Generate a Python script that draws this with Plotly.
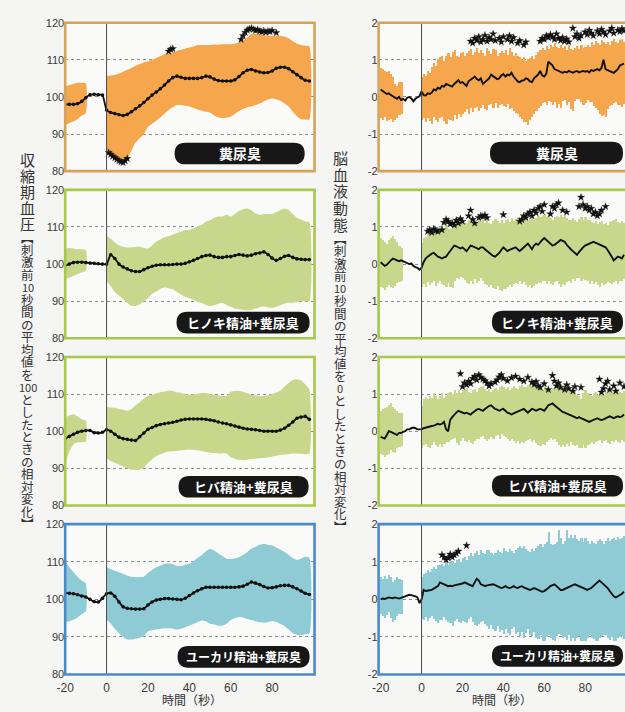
import plotly.graph_objects as go

W, H = 625, 712

# ---------------- time grids ----------------
T_L = list(range(-20, 100, 2))        # left line (-20..98)
T_L_PRE = list(range(-20, -9, 2))     # left band before stimulus
T_L_POST = list(range(0, 100, 2))     # left band after stimulus
T_R = list(range(-20, 100))           # right line
T_R_PRE = list(range(-20, -9))
T_R_POST = list(range(0, 100))

PANEL_LABELS = ["糞尿臭", "ヒノキ精油+糞尿臭", "ヒバ精油+糞尿臭", "ユーカリ精油+糞尿臭"]
LEFT_TICKS = [80, 90, 100, 110, 120]
RIGHT_TICKS = [-2, -1, 0, 1, 2]
RIGHT_TICKTEXT = ["-2", "-1", "0", "1", "2"]
X_TICKS = [-20, 0, 20, 40, 60, 80]
X_TICKTEXT = ["-20", "0", "20", "40", "60", "80"]

# ---------------- left column: systolic blood pressure ----------------
SBP_MEAN_1 = [98.0, 98.0, 98.0, 98.2, 98.8, 99.8, 100.6, 100.7, 100.6, 100.5,
              96.5, 95.8, 95.5, 95.2, 95.0, 95.3, 96.0, 96.8, 97.6, 98.5,
              99.5, 100.5, 101.3, 102.2, 103.2, 104.3, 105.2, 105.6, 105.3, 105.0,
              105.0, 105.0, 105.0, 105.2, 105.6, 105.4, 104.8, 104.4, 104.3, 104.3,
              104.3, 104.6, 105.5, 106.5, 107.2, 107.4, 107.0, 106.7, 106.5, 106.6,
              107.0, 107.7, 108.0, 108.0, 107.6, 106.8, 106.0, 105.2, 104.5, 104.3]
SBP_HI_PRE_1 = [102.8, 103.2, 103.5, 103.8, 103.8, 103.6]
SBP_LO_PRE_1 = [92.5, 93.0, 93.4, 94.0, 95.0, 95.6]
SBP_HI_POST_1 = [105.7, 105.8, 105.9, 106.3, 106.8, 107.3, 107.8, 108.4, 108.9, 109.3,
                 109.6, 110.0, 110.5, 111.0, 111.6, 111.8, 112.0, 112.4, 112.7, 113.0,
                 113.3, 113.6, 114.0, 114.0, 114.0, 114.0, 114.1, 114.1, 114.2, 114.2,
                 114.2, 114.4, 114.7, 115.2, 116.0, 117.0, 117.0, 116.8, 116.6, 116.5,
                 116.5, 116.5, 116.5, 116.2, 115.8, 115.0, 114.3, 114.0, 113.8, 113.6]
SBP_LO_POST_1 = [85.0, 84.0, 83.3, 82.8, 82.5, 83.3, 85.5, 87.7, 88.8, 90.0,
                 92.0, 92.8, 93.6, 94.5, 95.5, 96.5, 97.2, 97.8, 97.8, 97.6,
                 97.4, 97.0, 96.6, 96.3, 96.0, 95.8, 95.0, 94.5, 94.3, 94.4,
                 94.7, 95.4, 96.2, 96.8, 97.2, 97.4, 97.8, 98.2, 98.8, 99.3,
                 99.6, 99.4, 99.0, 98.2, 97.4, 96.0, 94.8, 94.0, 93.9, 93.9]
SBP_STAR_T_1 = [1, 2, 3, 4, 5, 6, 7, 8, 9, 10, 30, 31, 32,
                65, 66, 67, 68, 69, 70, 71, 72, 73, 74, 75, 76, 77, 78, 79, 80, 82]
SBP_STAR_V_1 = [85.0, 84.5, 84.0, 83.6, 83.2, 82.8, 82.5, 82.3, 82.8, 83.4, 112.3, 112.8, 113.0,
                115.5, 116.5, 117.4, 118.0, 118.3, 118.5, 118.2, 117.9, 118.1, 117.7, 117.5,
                117.8, 117.4, 117.7, 117.6, 117.9, 117.3]

SBP_MEAN_2 = [99.6, 100.0, 100.4, 100.5, 100.5, 100.4, 100.3, 100.2, 100.1, 100.0,
              100.0, 102.5, 101.5, 100.0, 99.2, 98.7, 98.2, 98.0, 98.0, 98.5,
              99.0, 99.4, 99.7, 99.8, 99.8, 99.8, 99.9, 100.0, 100.0, 100.2,
              100.6, 101.0, 101.5, 102.0, 102.3, 102.4, 102.0, 101.8, 101.8, 102.0,
              102.0, 102.3, 102.6, 102.4, 102.2, 102.4, 102.8, 103.0, 103.3, 102.6,
              101.6, 101.0, 101.5, 102.1, 102.3, 101.8, 101.4, 101.3, 101.2, 101.2]
SBP_HI_PRE_2 = [104.2, 104.3, 104.2, 104.0, 104.0, 103.8]
SBP_LO_PRE_2 = [96.0, 96.3, 96.8, 97.3, 97.7, 98.2]
SBP_HI_POST_2 = [107.6, 106.8, 105.8, 105.0, 104.7, 104.5, 104.5, 104.6, 104.7, 104.4,
                 104.2, 105.0, 106.0, 106.6, 107.2, 107.5, 108.0, 108.4, 108.8, 109.2,
                 109.2, 109.6, 110.2, 110.6, 111.4, 111.8, 112.5, 112.8, 112.8, 113.3,
                 112.8, 113.5, 114.3, 114.8, 115.0, 114.5, 113.6, 113.3, 113.5, 113.5,
                 113.5, 114.0, 114.6, 115.0, 114.6, 113.5, 112.5, 112.0, 111.5, 111.2]
SBP_LO_POST_2 = [95.5, 94.0, 92.5, 91.5, 90.5, 89.5, 88.8, 88.7, 89.2, 90.0,
                 90.8, 92.0, 92.6, 93.3, 93.7, 93.5, 93.2, 92.5, 91.8, 91.2,
                 90.8, 90.4, 89.8, 89.5, 89.0, 88.7, 88.9, 89.3, 89.5, 89.0,
                 88.5, 88.0, 87.8, 87.6, 87.5, 87.6, 88.0, 88.4, 88.6, 88.4,
                 88.2, 88.5, 89.0, 89.4, 89.6, 89.6, 89.8, 90.0, 90.0, 90.0]

SBP_MEAN_3 = [98.0, 98.6, 99.2, 99.7, 100.0, 100.2, 100.2, 99.6, 99.5, 99.7,
              100.4, 100.0, 99.2, 98.4, 98.0, 97.8, 97.6, 97.5, 98.5, 99.5,
              100.5, 101.0, 101.5, 101.8, 102.0, 102.2, 102.4, 102.7, 103.0, 103.2,
              103.3, 103.3, 103.3, 103.3, 103.2, 103.0, 102.8, 102.5, 102.2, 102.0,
              101.7, 101.4, 101.1, 100.8, 100.6, 100.5, 100.4, 100.2, 100.0, 100.0,
              100.0, 100.0, 100.3, 100.8, 101.6, 102.5, 103.5, 103.8, 104.0, 103.2]
SBP_HI_PRE_3 = [103.7, 104.3, 104.6, 104.0, 103.2, 102.8]
SBP_LO_PRE_3 = [91.0, 94.5, 96.5, 97.0, 97.0, 97.2]
SBP_HI_POST_3 = [106.5, 106.4, 106.3, 106.0, 105.8, 105.5, 106.0, 107.0, 107.8, 108.8,
                 109.5, 109.8, 110.2, 110.5, 110.7, 111.0, 110.8, 110.5, 110.3, 110.0,
                 109.8, 109.9, 110.1, 110.3, 110.3, 110.0, 109.8, 109.6, 109.5, 109.5,
                 110.6, 110.8, 110.8, 110.6, 110.2, 109.8, 109.6, 109.5, 109.5, 109.7,
                 110.0, 110.4, 111.0, 112.0, 113.0, 113.8, 114.0, 113.7, 112.6, 111.2]
SBP_LO_POST_3 = [92.7, 92.0, 91.5, 91.0, 90.5, 90.0, 89.6, 89.5, 89.6, 90.2,
                 91.5, 92.4, 93.3, 93.8, 94.2, 94.5, 94.6, 94.7, 94.8, 95.0,
                 95.1, 95.0, 94.8, 94.6, 94.4, 94.2, 94.1, 94.0, 94.0, 94.0,
                 93.0, 92.6, 92.3, 92.2, 92.3, 92.5, 92.6, 92.7, 92.8, 93.0,
                 93.2, 93.4, 93.6, 93.7, 93.8, 94.0, 94.0, 93.9, 93.8, 94.0]

SBP_MEAN_4 = [101.7, 101.6, 101.5, 101.2, 100.9, 100.6, 100.0, 99.4, 99.3, 100.3,
              101.5, 101.7, 100.8, 99.3, 98.0, 97.6, 97.5, 97.4, 97.4, 97.5,
              98.5, 99.3, 99.8, 100.0, 100.2, 100.2, 100.1, 100.0, 99.9, 100.3,
              101.0, 101.7, 102.3, 102.8, 103.2, 103.2, 103.2, 103.2, 103.2, 103.2,
              103.2, 103.2, 103.3, 103.5, 104.0, 104.6, 104.3, 103.9, 103.4, 103.0,
              103.1, 103.3, 103.6, 103.7, 103.7, 103.3, 102.8, 102.2, 101.6, 101.3]
SBP_HI_PRE_4 = [110.3, 108.5, 107.2, 106.0, 105.0, 104.2]
SBP_LO_PRE_4 = [94.0, 94.2, 94.6, 95.2, 96.0, 96.8]
SBP_HI_POST_4 = [108.5, 108.0, 107.6, 107.2, 106.8, 106.3, 106.0, 105.9, 105.9, 106.0,
                 107.0, 107.8, 108.5, 109.0, 109.4, 109.5, 109.3, 108.9, 108.8, 109.2,
                 109.5, 110.2, 111.0, 111.8, 112.8, 113.4, 113.0, 112.2, 111.5, 110.8,
                 110.7, 110.9, 111.2, 111.8, 112.6, 113.5, 114.0, 114.5, 114.7, 114.5,
                 114.3, 113.8, 113.2, 112.6, 111.8, 111.0, 110.5, 110.8, 111.3, 111.0]
SBP_LO_POST_4 = [94.6, 93.6, 92.2, 91.0, 90.0, 89.3, 89.3, 89.5, 89.8, 90.2,
                 91.5, 91.8, 92.0, 92.2, 92.3, 92.3, 92.2, 92.0, 92.2, 92.6,
                 93.0, 93.5, 94.0, 94.4, 94.2, 93.5, 93.3, 93.0, 93.0, 93.5,
                 94.5, 95.0, 95.3, 95.2, 94.8, 94.5, 94.2, 93.9, 93.8, 94.0,
                 94.2, 94.0, 93.5, 92.9, 92.0, 91.0, 90.6, 90.5, 90.7, 90.9]

# ---------------- right column: cerebral hemodynamics ----------------
CBF_MEAN_1 = [0.20, 0.15, 0.12, 0.08, 0.10, 0.05, 0.02, -0.03, -0.05, 0.00,
              -0.08, -0.05, -0.10, -0.02, 0.00, -0.04, -0.12, -0.05, -0.02, 0.02,
              0.15, 0.05, 0.04, 0.10, 0.08, 0.12, 0.20, 0.18, 0.25, 0.22,
              0.30, 0.28, 0.35, 0.32, 0.30, 0.28, 0.35, 0.40, 0.45, 0.38,
              0.40, 0.35, 0.30, 0.42, 0.45, 0.50, 0.55, 0.48, 0.45, 0.50,
              0.35, 0.40, 0.45, 0.50, 0.60, 0.55, 0.52, 0.48, 0.50, 0.58,
              0.62, 0.55, 0.60, 0.58, 0.65, 0.55, 0.48, 0.42, 0.40, 0.44,
              0.45, 0.50, 0.48, 0.42, 0.40, 0.50, 0.55, 0.60, 0.70, 0.58,
              0.55, 0.62, 0.95, 0.90, 0.85, 0.75, 0.72, 0.70, 0.66, 0.65,
              0.68, 0.66, 0.70, 0.67, 0.65, 0.68, 0.70, 0.66, 0.68, 0.70,
              0.68, 0.70, 0.66, 0.72, 0.70, 0.73, 0.75, 0.72, 0.78, 1.00,
              0.75, 0.72, 0.70, 0.68, 0.65, 0.70, 0.75, 0.85, 0.88, 0.90]
CBF_HI_PRE_1 = [0.80, 0.75, 0.72, 0.68, 0.70, 0.62, 0.55, 0.35, 0.30, 0.42, 0.40]
CBF_LO_PRE_1 = [-0.55, -0.60, -0.52, -0.65, -0.62, -0.58, -0.66, -0.60, -0.55, -0.48, -0.45]
CBF_HI_POST_1 = [0.55, 0.62, 0.58, 0.72, 0.66, 0.82, 0.92, 0.84, 1.02, 1.08,
                 1.12, 0.98, 1.10, 1.18, 1.08, 1.22, 1.28, 1.12, 1.08, 1.20,
                 1.22, 1.10, 1.18, 1.25, 1.30, 1.15, 1.22, 1.32, 1.20, 1.26,
                 1.18, 1.12, 1.32, 1.24, 1.16, 1.30, 1.26, 1.12, 1.20, 1.24,
                 1.18, 1.28, 1.15, 1.32, 1.22, 1.12, 1.20, 1.10, 1.08, 1.02,
                 1.08, 0.98, 1.02, 1.06, 1.12, 1.02, 1.14, 1.22, 1.26, 1.34,
                 1.28, 1.38, 1.30, 1.40, 1.36, 1.45, 1.35, 1.32, 1.42, 1.34,
                 1.38, 1.28, 1.40, 1.30, 1.26, 1.34, 1.38, 1.30, 1.40, 1.34,
                 1.36, 1.42, 1.36, 1.48, 1.40, 1.52, 1.46, 1.42, 1.55, 1.48,
                 1.44, 1.50, 1.40, 1.52, 1.58, 1.48, 1.46, 1.55, 1.58, 1.50]
CBF_LO_POST_1 = [-0.62, -0.55, -0.68, -0.56, -0.64, -0.72, -0.52, -0.62, -0.66, -0.56,
                 -0.54, -0.64, -0.72, -0.58, -0.60, -0.64, -0.48, -0.58, -0.46, -0.54,
                 -0.44, -0.40, -0.32, -0.45, -0.28, -0.40, -0.30, -0.26, -0.38, -0.30,
                 -0.22, -0.32, -0.34, -0.20, -0.18, -0.28, -0.16, -0.30, -0.22, -0.18,
                 -0.24, -0.26, -0.18, -0.32, -0.28, -0.38, -0.42, -0.46, -0.52, -0.58,
                 -0.68, -0.66, -0.75, -0.62, -0.52, -0.46, -0.38, -0.28, -0.24, -0.16,
                 -0.14, -0.22, -0.10, -0.12, -0.20, -0.14, -0.28, -0.18, -0.30, -0.10,
                 -0.08, -0.20, -0.14, -0.32, -0.36, -0.10, -0.06, -0.04, -0.12, -0.22,
                 -0.16, -0.08, -0.14, -0.12, -0.24, -0.30, -0.34, -0.46, -0.50, -0.48,
                 -0.52, -0.32, -0.24, -0.22, -0.16, -0.14, -0.22, -0.20, -0.26, -0.18]
CBF_STAR_T_1 = [24, 25, 26, 27, 28, 29, 30, 31, 32, 33, 34, 35, 36, 38, 39, 40, 42, 43, 44, 45,
                47, 48, 50, 51,
                58, 59, 60, 61, 62, 63, 64, 65, 66, 67, 68, 69, 70, 71, 72, 74, 75, 76, 77, 78,
                80, 81, 82, 83, 84, 86, 87, 88, 89, 90, 92, 93, 94, 96, 97, 98, 99]
CBF_STAR_V_1 = [1.50, 1.45, 1.58, 1.52, 1.62, 1.48, 1.55, 1.66, 1.50, 1.60, 1.55, 1.70, 1.52,
                1.58, 1.48, 1.62, 1.55, 1.65, 1.50, 1.60, 1.45, 1.52, 1.40, 1.48,
                1.50, 1.58, 1.55, 1.65, 1.60, 1.68, 1.62, 1.55, 1.70, 1.58, 1.52, 1.60, 1.50,
                1.56, 1.48, 1.85, 1.62, 1.70, 1.58, 1.66, 1.75, 1.68, 1.80, 1.72, 1.65, 1.78,
                1.70, 1.82, 1.75, 1.68, 1.78, 1.85, 1.72, 1.80, 1.76, 1.84, 1.78]

CBF_MEAN_2 = [0.05, 0.00, -0.05, -0.02, 0.05, 0.10, 0.15, 0.12, 0.10, 0.08,
              0.10, 0.08, 0.05, 0.02, 0.00, 0.02, -0.05, -0.08, -0.10, -0.15,
              -0.10, 0.05, 0.15, 0.20, 0.25, 0.28, 0.30, 0.25, 0.20, 0.18,
              0.15, 0.18, 0.20, 0.28, 0.35, 0.42, 0.50, 0.48, 0.45, 0.42,
              0.45, 0.40, 0.35, 0.42, 0.50, 0.48, 0.45, 0.42, 0.40, 0.45,
              0.45, 0.40, 0.35, 0.30, 0.25, 0.22, 0.20, 0.25, 0.30, 0.38,
              0.45, 0.40, 0.35, 0.38, 0.40, 0.42, 0.45, 0.40, 0.35, 0.40,
              0.45, 0.50, 0.55, 0.48, 0.40, 0.50, 0.55, 0.52, 0.60, 0.65,
              0.70, 0.65, 0.60, 0.55, 0.50, 0.52, 0.55, 0.60, 0.65, 0.62,
              0.60, 0.52, 0.45, 0.40, 0.35, 0.30, 0.25, 0.32, 0.40, 0.45,
              0.50, 0.52, 0.55, 0.58, 0.60, 0.58, 0.55, 0.52, 0.50, 0.48,
              0.45, 0.38, 0.30, 0.20, 0.10, 0.15, 0.20, 0.18, 0.15, 0.25]
CBF_HI_PRE_2 = [0.70, 0.65, 0.60, 0.55, 0.65, 0.70, 0.75, 0.68, 0.60, 0.50, 0.45]
CBF_LO_PRE_2 = [-0.60, -0.65, -0.70, -0.62, -0.55, -0.60, -0.65, -0.58, -0.50, -0.48, -0.45]
CBF_HI_POST_2 = [0.58, 0.70, 0.74, 0.82, 0.86, 0.88, 0.94, 0.90, 0.96, 1.00,
                 1.02, 0.98, 1.06, 0.96, 0.94, 1.08, 1.12, 1.04, 1.06, 1.12,
                 1.16, 1.10, 1.12, 1.18, 1.22, 1.12, 1.08, 1.14, 1.18, 1.16,
                 1.22, 1.12, 1.20, 1.10, 1.08, 1.16, 1.22, 1.16, 1.10, 1.18,
                 1.12, 1.20, 1.22, 1.14, 1.24, 1.16, 1.22, 1.28, 1.20, 1.18,
                 1.26, 1.20, 1.16, 1.22, 1.28, 1.18, 1.24, 1.30, 1.28, 1.34,
                 1.36, 1.28, 1.30, 1.24, 1.20, 1.26, 1.30, 1.28, 1.34, 1.26,
                 1.32, 1.24, 1.18, 1.20, 1.24, 1.18, 1.14, 1.22, 1.26, 1.20,
                 1.26, 1.18, 1.20, 1.14, 1.10, 1.16, 1.08, 1.14, 1.16, 1.08,
                 1.12, 1.06, 1.14, 1.16, 1.20, 1.22, 1.14, 1.10, 1.16, 1.12]
CBF_LO_POST_2 = [-0.62, -0.54, -0.60, -0.48, -0.56, -0.50, -0.46, -0.58, -0.50, -0.44,
                 -0.52, -0.56, -0.62, -0.50, -0.60, -0.64, -0.44, -0.38, -0.40, -0.34,
                 -0.36, -0.42, -0.50, -0.54, -0.44, -0.52, -0.40, -0.50, -0.46, -0.38,
                 -0.46, -0.52, -0.56, -0.62, -0.56, -0.64, -0.66, -0.58, -0.70, -0.72,
                 -0.68, -0.66, -0.60, -0.56, -0.62, -0.54, -0.50, -0.52, -0.46, -0.52,
                 -0.48, -0.56, -0.62, -0.56, -0.64, -0.58, -0.54, -0.48, -0.50, -0.44,
                 -0.46, -0.52, -0.46, -0.54, -0.56, -0.48, -0.44, -0.54, -0.60, -0.54,
                 -0.56, -0.48, -0.44, -0.50, -0.40, -0.46, -0.38, -0.36, -0.44, -0.40,
                 -0.42, -0.46, -0.52, -0.46, -0.54, -0.48, -0.56, -0.60, -0.50, -0.56,
                 -0.54, -0.48, -0.50, -0.54, -0.48, -0.44, -0.52, -0.46, -0.44, -0.40]
CBF_STAR_T_2 = [3, 4, 5, 6, 7, 8, 10, 11, 12, 13, 14, 15, 16, 17, 18, 19, 20,
                23, 24, 25, 26, 28, 29, 30, 31, 32, 40,
                48, 49, 50, 51, 52, 53, 54, 55, 56, 57, 58, 59, 60,
                63, 64, 65, 66, 67, 69, 71,
                77, 78, 79, 80, 81, 82, 83, 84, 85, 86, 87, 88, 90]
CBF_STAR_V_2 = [0.88, 0.92, 0.85, 0.95, 0.90, 0.88, 0.92, 1.12, 1.20, 1.15, 1.08, 1.10, 1.05,
                1.18, 1.10, 1.22, 1.15,
                1.30, 1.45, 1.20, 1.10, 1.25, 1.30, 1.28, 1.32, 1.25, 1.33,
                1.15, 1.20, 1.30, 1.25, 1.35, 1.40, 1.30, 1.45, 1.38, 1.50, 1.55, 1.42, 1.60,
                1.35, 1.55, 1.50, 1.60, 1.65, 1.45, 1.40,
                1.55, 1.80, 1.60, 1.50, 1.55, 1.45, 1.50, 1.35, 1.40, 1.30, 1.35, 1.45, 1.55]

CBF_MEAN_3 = [-0.15, -0.18, -0.20, -0.10, 0.00, -0.02, -0.05, -0.08, -0.10, -0.05,
              -0.05, -0.02, 0.00, 0.05, 0.05, 0.08, 0.10, 0.08, 0.05, 0.05,
              0.05, 0.08, 0.10, 0.12, 0.12, 0.14, 0.15, 0.18, 0.20, 0.18,
              0.20, 0.25, 0.05, 0.00, 0.30, 0.38, 0.45, 0.50, 0.55, 0.52,
              0.50, 0.48, 0.50, 0.48, 0.45, 0.50, 0.55, 0.58, 0.60, 0.58,
              0.55, 0.60, 0.65, 0.68, 0.70, 0.65, 0.60, 0.58, 0.55, 0.58,
              0.60, 0.55, 0.50, 0.48, 0.45, 0.48, 0.50, 0.52, 0.55, 0.58,
              0.60, 0.55, 0.50, 0.55, 0.60, 0.58, 0.55, 0.58, 0.60, 0.58,
              0.55, 0.62, 0.70, 0.72, 0.75, 0.70, 0.65, 0.60, 0.55, 0.52,
              0.50, 0.48, 0.45, 0.42, 0.40, 0.38, 0.35, 0.38, 0.35, 0.32,
              0.30, 0.28, 0.25, 0.28, 0.30, 0.32, 0.35, 0.32, 0.30, 0.32,
              0.35, 0.38, 0.40, 0.38, 0.35, 0.38, 0.40, 0.38, 0.40, 0.45]
CBF_HI_PRE_3 = [0.55, 0.60, 0.62, 0.65, 0.70, 0.75, 0.65, 0.60, 0.55, 0.50, 0.48]
CBF_LO_PRE_3 = [-0.60, -0.65, -0.70, -0.65, -0.60, -0.50, -0.55, -0.58, -0.45, -0.42, -0.40]
CBF_HI_POST_3 = [0.68, 0.86, 0.92, 0.86, 0.96, 0.90, 1.02, 0.94, 0.88, 0.96,
                 1.02, 0.90, 0.96, 1.02, 1.06, 1.00, 1.12, 1.04, 1.10, 1.04,
                 1.12, 1.14, 1.16, 1.06, 1.04, 1.12, 1.14, 1.06, 1.16, 1.20,
                 1.22, 1.14, 1.08, 1.14, 1.06, 1.12, 1.16, 1.10, 1.20, 1.22,
                 1.18, 1.14, 1.20, 1.10, 1.16, 1.22, 1.16, 1.14, 1.22, 1.24,
                 1.18, 1.20, 1.24, 1.26, 1.18, 1.26, 1.22, 1.16, 1.22, 1.14,
                 1.22, 1.16, 1.14, 1.10, 1.16, 1.20, 1.18, 1.24, 1.26, 1.18,
                 1.26, 1.20, 1.14, 1.08, 1.04, 1.12, 0.98, 0.94, 0.88, 1.02,
                 1.12, 1.04, 0.98, 0.94, 1.02, 1.06, 0.98, 1.04, 1.06, 0.98,
                 1.06, 1.10, 1.12, 1.04, 1.08, 1.12, 1.14, 1.06, 1.04, 1.08]
CBF_LO_POST_3 = [-0.46, -0.38, -0.34, -0.42, -0.46, -0.36, -0.28, -0.36, -0.42, -0.34,
                 -0.42, -0.34, -0.28, -0.30, -0.24, -0.22, -0.18, -0.32, -0.36, -0.26,
                 -0.18, -0.26, -0.30, -0.24, -0.32, -0.34, -0.26, -0.20, -0.22, -0.16,
                 -0.14, -0.22, -0.26, -0.20, -0.16, -0.22, -0.14, -0.10, -0.20, -0.08,
                 -0.12, -0.16, -0.22, -0.26, -0.20, -0.26, -0.32, -0.26, -0.34, -0.28,
                 -0.32, -0.26, -0.24, -0.20, -0.30, -0.24, -0.32, -0.36, -0.40, -0.34,
                 -0.36, -0.28, -0.24, -0.18, -0.24, -0.20, -0.30, -0.36, -0.42, -0.36,
                 -0.42, -0.34, -0.40, -0.30, -0.36, -0.40, -0.38, -0.44, -0.46, -0.38,
                 -0.46, -0.38, -0.34, -0.28, -0.34, -0.30, -0.26, -0.24, -0.32, -0.26,
                 -0.24, -0.32, -0.34, -0.26, -0.30, -0.24, -0.30, -0.32, -0.24, -0.28]
CBF_STAR_T_3 = [19, 20, 21, 22, 23, 24, 25, 26, 27, 28, 29, 30, 31, 32, 33, 34,
                36, 37, 38, 39, 40, 42, 44, 46, 48, 50, 52, 54, 55, 56, 57, 58, 60, 62,
                64, 65, 66, 67, 68, 70, 71, 72, 74, 75, 78,
                87, 88, 89, 90, 91, 92, 94, 95, 97, 99]
CBF_STAR_V_3 = [1.55, 1.20, 1.30, 1.25, 1.35, 1.28, 1.42, 1.48, 1.38, 1.52, 1.45, 1.40, 1.36,
                1.30, 1.22, 1.28,
                1.32, 1.38, 1.46, 1.52, 1.42, 1.36, 1.44, 1.48, 1.40, 1.35, 1.45, 1.32,
                1.26, 1.34, 1.22, 1.18, 1.28, 1.12,
                1.50, 1.35, 1.22, 1.30, 1.18, 1.12, 1.25, 1.15, 1.08, 1.20, 1.18,
                1.40, 1.05, 1.15, 1.28, 1.35, 1.12, 1.22, 1.08, 1.30, 1.20]

CBF_MEAN_4 = [0.00, 0.02, 0.01, 0.03, 0.05, 0.04, 0.03, 0.05, 0.04, 0.02,
              0.04, 0.06, 0.08, 0.10, 0.12, 0.11, 0.10, 0.08, 0.05, -0.10,
              0.00, 0.25, 0.22, 0.22, 0.24, 0.25, 0.28, 0.30, 0.35, 0.45,
              0.42, 0.40, 0.38, 0.35, 0.36, 0.35, 0.37, 0.38, 0.40, 0.40,
              0.42, 0.45, 0.42, 0.40, 0.38, 0.35, 0.45, 0.55, 0.50, 0.40,
              0.38, 0.35, 0.37, 0.38, 0.40, 0.40, 0.38, 0.35, 0.32, 0.30,
              0.32, 0.35, 0.32, 0.30, 0.32, 0.35, 0.32, 0.30, 0.33, 0.35,
              0.32, 0.30, 0.28, 0.25, 0.27, 0.30, 0.28, 0.25, 0.22, 0.20,
              0.22, 0.25, 0.30, 0.35, 0.38, 0.40, 0.35, 0.30, 0.25, 0.25,
              0.28, 0.30, 0.33, 0.35, 0.38, 0.40, 0.38, 0.35, 0.32, 0.30,
              0.28, 0.25, 0.27, 0.30, 0.35, 0.40, 0.45, 0.50, 0.45, 0.40,
              0.35, 0.30, 0.22, 0.15, 0.08, 0.05, 0.08, 0.10, 0.15, 0.20]
CBF_HI_PRE_4 = [0.60, 0.55, 0.62, 0.55, 0.65, 0.58, 0.45, 0.50, 0.60, 0.55, 0.52]
CBF_LO_PRE_4 = [-0.40, -0.45, -0.50, -0.42, -0.35, -0.50, -0.60, -0.55, -0.45, -0.40, -0.38]
CBF_HI_POST_4 = [0.58, 0.66, 0.70, 0.78, 0.72, 0.80, 0.86, 0.80, 0.90, 0.92,
                 0.94, 0.88, 0.98, 0.92, 1.00, 1.02, 0.96, 1.04, 1.08, 1.00,
                 1.10, 1.12, 1.04, 1.16, 1.22, 1.14, 1.24, 1.28, 1.18, 1.30,
                 1.24, 1.20, 1.30, 1.32, 1.22, 1.18, 1.24, 1.32, 1.26, 1.22,
                 1.36, 1.28, 1.26, 1.34, 1.28, 1.22, 1.32, 1.36, 1.42, 1.36,
                 1.42, 1.34, 1.28, 1.26, 1.34, 1.28, 1.36, 1.42, 1.48, 1.40,
                 1.46, 1.52, 1.78, 1.48, 1.44, 1.46, 1.52, 1.85, 1.62, 1.48,
                 1.56, 1.84, 1.62, 1.72, 1.64, 1.70, 1.60, 1.56, 1.62, 1.52,
                 1.62, 1.54, 1.48, 1.56, 1.50, 1.48, 1.56, 1.60, 1.54, 1.48,
                 1.56, 1.62, 1.54, 1.60, 1.64, 1.58, 1.66, 1.60, 1.64, 1.68]
CBF_LO_POST_4 = [-0.52, -0.56, -0.46, -0.58, -0.50, -0.44, -0.52, -0.58, -0.62, -0.56,
                 -0.54, -0.48, -0.54, -0.60, -0.64, -0.72, -0.58, -0.52, -0.60, -0.64,
                 -0.58, -0.60, -0.64, -0.52, -0.48, -0.60, -0.68, -0.72, -0.66, -0.60,
                 -0.58, -0.66, -0.72, -0.78, -0.68, -0.80, -0.84, -0.72, -0.86, -0.82,
                 -0.92, -0.78, -0.90, -0.95, -0.80, -0.74, -0.92, -0.86, -0.98, -0.88,
                 -1.02, -0.90, -0.80, -0.94, -0.98, -0.88, -1.02, -1.06, -0.96, -1.10,
                 -1.12, -1.00, -0.94, -1.04, -1.08, -1.10, -0.98, -0.92, -0.96, -1.04,
                 -1.00, -1.08, -0.96, -1.10, -1.04, -1.12, -1.02, -0.98, -1.10, -1.12,
                 -1.10, -1.02, -0.96, -1.04, -1.06, -1.10, -1.12, -1.04, -0.98, -0.96,
                 -0.94, -1.02, -1.08, -1.00, -1.10, -1.12, -1.04, -1.00, -0.98, -1.06]
CBF_STAR_T_4 = [10, 11, 12, 13, 14, 15, 16, 17, 18, 22]
CBF_STAR_V_4 = [1.18, 1.12, 1.05, 1.10, 1.20, 1.12, 1.18, 1.22, 1.28, 1.43]

LEFT_TITLE_BIG = ["収", "縮", "期", "血", "圧"]
LEFT_TITLE_SMALL = ["︻", "刺", "激", "前", "10", "秒", "間", "の", "平", "均", "値", "を", "100",
                    "と", "し", "た", "と", "き", "の", "相", "対", "変", "化", "︼"]
RIGHT_TITLE_BIG = ["脳", "血", "液", "動", "態"]
RIGHT_TITLE_SMALL = ["︻", "刺", "激", "前", "10", "秒", "間", "の", "平", "均", "値", "を", "0",
                     "と", "し", "た", "と", "き", "の", "相", "対", "変", "化", "︼"]
X_TITLE = "時間（秒）"

# ---------------- styling ----------------
FRAME_COL = ["#d3a45b", "#a6c84b", "#a6c84b", "#4a8acb"]
BAND_COL = ["#f6a64d", "#c8d78c", "#c8d78c", "#8ecbd5"]
CJK = "Noto Sans CJK JP"
NUM = "Liberation Sans"

LEFT_X = (57, 310)
RIGHT_X = (375, 625)
ROW_Y = [(17, 168), (187, 338), (357, 508), (527, 680)]


def px(x):
    return x / W


def py(y):
    return 1 - y / H


SBP = [
    (SBP_MEAN_1, SBP_HI_PRE_1, SBP_LO_PRE_1, SBP_HI_POST_1, SBP_LO_POST_1, SBP_STAR_T_1, SBP_STAR_V_1),
    (SBP_MEAN_2, SBP_HI_PRE_2, SBP_LO_PRE_2, SBP_HI_POST_2, SBP_LO_POST_2, [], []),
    (SBP_MEAN_3, SBP_HI_PRE_3, SBP_LO_PRE_3, SBP_HI_POST_3, SBP_LO_POST_3, [], []),
    (SBP_MEAN_4, SBP_HI_PRE_4, SBP_LO_PRE_4, SBP_HI_POST_4, SBP_LO_POST_4, [], []),
]
CBF = [
    (CBF_MEAN_1, CBF_HI_PRE_1, CBF_LO_PRE_1, CBF_HI_POST_1, CBF_LO_POST_1, CBF_STAR_T_1, CBF_STAR_V_1),
    (CBF_MEAN_2, CBF_HI_PRE_2, CBF_LO_PRE_2, CBF_HI_POST_2, CBF_LO_POST_2, CBF_STAR_T_2, CBF_STAR_V_2),
    (CBF_MEAN_3, CBF_HI_PRE_3, CBF_LO_PRE_3, CBF_HI_POST_3, CBF_LO_POST_3, CBF_STAR_T_3, CBF_STAR_V_3),
    (CBF_MEAN_4, CBF_HI_PRE_4, CBF_LO_PRE_4, CBF_HI_POST_4, CBF_LO_POST_4, CBF_STAR_T_4, CBF_STAR_V_4),
]

fig = go.Figure()
layout = {}
shapes = []
annotations = []


def axis_ids(k):
    return ("x" if k == 1 else f"x{k}"), ("y" if k == 1 else f"y{k}")


def pill_path(x0, y0, x1, y1):
    r = (y1 - y0) / 2

    def P(x, y):
        return f"{px(x):.5f},{py(y):.5f}"
    return ("M " + P(x0 + r, y0) + " L " + P(x1 - r, y0) + " Q " + P(x1, y0) + " " + P(x1, y0 + r)
            + " Q " + P(x1, y1) + " " + P(x1 - r, y1) + " L " + P(x0 + r, y1)
            + " Q " + P(x0, y1) + " " + P(x0, y1 - r) + " Q " + P(x0, y0) + " " + P(x0 + r, y0) + " Z")


LEFT_PILLS = [(168, 139, 300, 161), (170, 311, 305, 333), (172, 478, 304, 500), (171, 651, 305, 673)]
RIGHT_PILLS = [(488, 138, 623, 161), (490, 310, 623, 333), (490, 477, 623, 499), (490, 650, 623, 672)]
PILL_SIZE = [14, 13, 13, 12]

for side in range(2):
    for r in range(4):
        k = r + 1 + side * 4
        xid, yid = axis_ids(k)
        xname = "xaxis" if k == 1 else f"xaxis{k}"
        yname = "yaxis" if k == 1 else f"yaxis{k}"
        xd = LEFT_X if side == 0 else RIGHT_X
        yt, yb = ROW_Y[r]
        bottom = (r == 3)
        layout[xname] = dict(
            domain=[px(xd[0]), px(xd[1])], anchor=yid,
            range=[-20, 100.5] if side == 0 else [-21, 99.5],
            showgrid=False, zeroline=False, showline=False, ticks="",
            showticklabels=bottom, tickvals=X_TICKS, ticktext=X_TICKTEXT,
            ticklabelstandoff=4,
            tickfont=dict(family=NUM, size=12, color="#3a3a3a"), fixedrange=True)
        layout[yname] = dict(
            domain=[py(yb), py(yt)], anchor=xid,
            range=[80, 120] if side == 0 else [-2, 2],
            tickvals=LEFT_TICKS if side == 0 else RIGHT_TICKS,
            ticktext=[str(v) for v in LEFT_TICKS] if side == 0 else RIGHT_TICKTEXT,
            showgrid=True, gridcolor="#8d8d8d", griddash="dot", gridwidth=1,
            zeroline=False, showline=False, ticks="",
            tickfont=dict(family=NUM, size=11, color="#3a3a3a"), fixedrange=True)

        if side == 0:
            mean, hpre, lpre, hpost, lpost, st, sv = SBP[r]
            for tx, hi, lo in ((T_L_PRE, hpre, lpre), (T_L_POST, hpost, lpost)):
                fig.add_trace(go.Scatter(
                    x=tx + tx[::-1], y=hi + lo[::-1], xaxis=xid, yaxis=yid,
                    fill="toself", fillcolor=BAND_COL[r], mode="lines",
                    line=dict(width=0, color=BAND_COL[r], shape="spline", smoothing=0.6),
                    hoverinfo="skip"))
            fig.add_trace(go.Scatter(
                x=T_L, y=mean, xaxis=xid, yaxis=yid, mode="lines+markers",
                line=dict(color="#111111", width=1.8, shape="spline", smoothing=0.6),
                marker=dict(size=3.6, color="#111111")))
        else:
            mean, hpre, lpre, hpost, lpost, st, sv = CBF[r]
            for tx, hi, lo in ((T_R_PRE, hpre, lpre), (T_R_POST, hpost, lpost)):
                fig.add_trace(go.Bar(
                    x=tx, y=[h - l for h, l in zip(hi, lo)], base=lo,
                    xaxis=xid, yaxis=yid, width=1.05,
                    marker=dict(color=BAND_COL[r], line=dict(width=0)),
                    hoverinfo="skip"))
            fig.add_trace(go.Scatter(
                x=T_R, y=mean, xaxis=xid, yaxis=yid, mode="lines",
                line=dict(color="#111111", width=1.9)))
        if st:
            fig.add_trace(go.Scatter(
                x=st, y=sv, xaxis=xid, yaxis=yid, mode="markers",
                marker=dict(symbol="star", size=5.5, color="#111111",
                            line=dict(width=0.3, color="#111111"))))

        # stimulus onset line
        shapes.append(dict(type="line", xref=xid, yref=yid, x0=0, x1=0,
                           y0=80 if side == 0 else -2, y1=120 if side == 0 else 2,
                           line=dict(color="#4a4a4a", width=1), layer="above"))
        # frame
        fx1 = px(xd[1]) if side == 0 else 1.03
        shapes.append(dict(type="rect", xref="paper", yref="paper",
                           x0=px(xd[0]), x1=fx1, y0=py(yb), y1=py(yt),
                           line=dict(color=FRAME_COL[r], width=2.6),
                           fillcolor="rgba(0,0,0,0)", layer="above"))
        # label pill
        pb = LEFT_PILLS[r] if side == 0 else RIGHT_PILLS[r]
        shapes.append(dict(type="path", xref="paper", yref="paper",
                           path=pill_path(*pb), fillcolor="#171717",
                           line=dict(width=0), layer="above"))
        annotations.append(dict(
            x=px((pb[0] + pb[2]) / 2), y=py((pb[1] + pb[3]) / 2), xref="paper", yref="paper",
            text="<b>" + PANEL_LABELS[r] + "</b>", showarrow=False,
            xanchor="center", yanchor="middle",
            font=dict(family=CJK, size=PILL_SIZE[r], color="#ffffff")))


# vertical axis titles: upright glyphs stacked top to bottom (tategaki)
def vertical_glyphs(cx, chars, first_y, step, size):
    for i, ch in enumerate(chars):
        annotations.append(dict(
            x=px(cx), y=py(first_y + i * step), xref="paper", yref="paper",
            text=ch, showarrow=False, xanchor="center", yanchor="middle",
            font=dict(family=CJK, size=size - 1.5 if ch.isdigit() else size, color="#333333")))


vertical_glyphs(19, LEFT_TITLE_BIG, 156, 16.3, 15)
vertical_glyphs(19, LEFT_TITLE_SMALL, 235, 12.68, 12.5)
vertical_glyphs(336, RIGHT_TITLE_BIG, 154, 17.0, 15)
vertical_glyphs(336, RIGHT_TITLE_SMALL, 236, 12.74, 12.5)

for cx in (186, 500):
    annotations.append(dict(x=px(cx), y=py(705), xref="paper", yref="paper", text=X_TITLE,
                            showarrow=False, xanchor="center", yanchor="middle",
                            font=dict(family=CJK, size=12, color="#333333")))

fig.update_layout(
    width=W, height=H, margin=dict(l=0, r=0, t=0, b=0),
    paper_bgcolor="#f5f5f3", plot_bgcolor="#fafaf8",
    showlegend=False, bargap=0, barmode="overlay",
    shapes=shapes, annotations=annotations, **layout)

fig.write_html("out.html", config={"displayModeBar": False},
               post_script="document.body.style.margin='0';document.body.style.overflow='hidden';")
